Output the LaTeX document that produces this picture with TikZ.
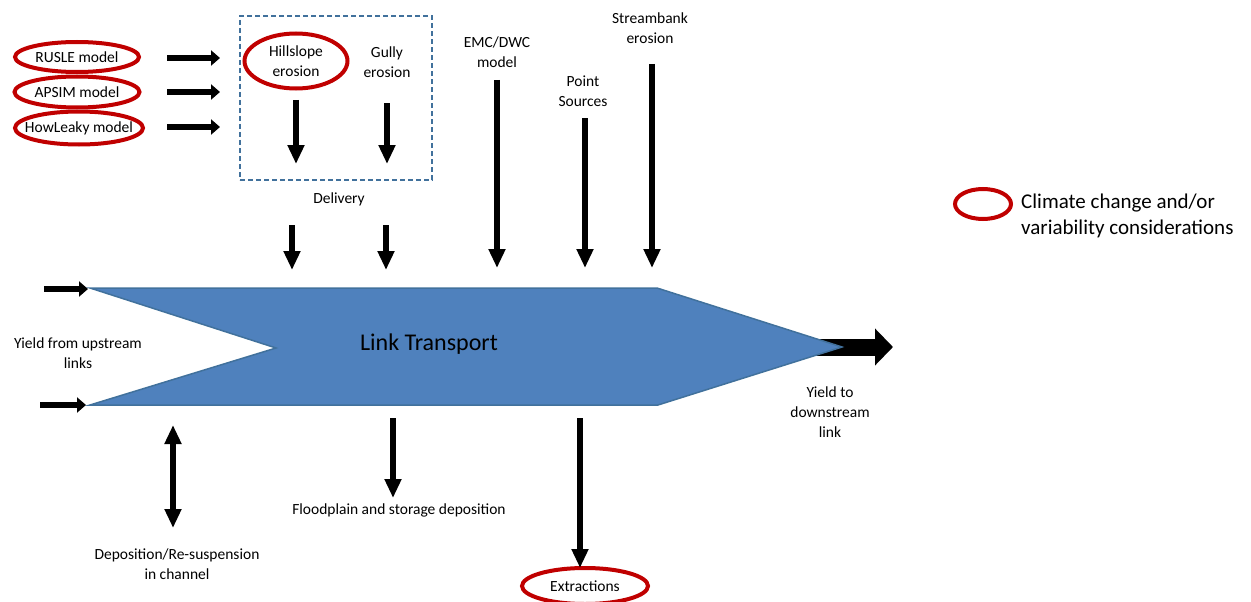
\documentclass[tikz,border=0pt]{standalone}
\usepackage{fontspec}
\setmainfont{Carlito}
\usetikzlibrary{arrows.meta, shapes.geometric}
\definecolor{climred}{HTML}{C00000}
\definecolor{linkblue}{HTML}{4F81BD}
\definecolor{linkedge}{HTML}{41719C}

\begin{document}
\begin{tikzpicture}[
    x=1pt, y=-1pt,
    every node/.style={font=\fontsize{15.5}{20}\selectfont, align=center, inner sep=0pt},
    climate/.style={ellipse, draw=climred, line width=4pt, inner xsep=-12pt},
    fat/.style={line width=6pt, -{Triangle[length=19pt, width=16pt]}},
    short/.style={line width=6pt, -{Triangle[length=9pt, width=15pt]}},
    both/.style={line width=6pt, {Triangle[length=19pt, width=16pt]}-{Triangle[length=19pt, width=16pt]}}
]
\useasboundingbox (0,0) rectangle (1251,602);

% Models feeding hillslope erosion
\node[climate, minimum width=124, minimum height=30] (rusle) at (77,57) {RUSLE model};
\node[climate, minimum width=125, minimum height=31] (apsim) at (77,92) {APSIM model};
\node[climate, minimum width=128, minimum height=33] (howleaky) at (79,128) {HowLeaky model};

% Dashed box with the erosion sources
\node[draw=linkedge, dashed, line width=1.5pt, dash pattern=on 5pt off 3pt,
      minimum width=192, minimum height=164] (sources) at (336,98) {};
\node[climate, minimum width=103, minimum height=55] (hill) at (296,61) {Hillslope\\erosion};
\node (gully) at (387,62) {Gully\\erosion};
\node (delivery) at (339,199) {Delivery};

% Other sources
\node (emc) at (497,52) {EMC/DWC\\model};
\node (point) at (583,91) {Point\\Sources};
\node (bank) at (650,28) {Streambank\\erosion};

% Outputs and losses
\node (upstream) at (78,353) {Yield from upstream\\links};
\node (downstream) at (830,412) {Yield to\\downstream\\link};
\node (resusp) at (177,564) {Deposition/Re-suspension\\in channel};
\node (flood) at (399,510) {Floodplain and storage deposition};
\node[climate, minimum width=126, minimum height=36] (extract) at (585,586) {Extractions};

% Legend
\node[climate, minimum width=56, minimum height=30] (key) at (983,204) {};
\node[anchor=west, align=left, font=\fontsize{21}{26}\selectfont] (keytext) at (1021,216)
    {Climate change and/or\\variability considerations};

% Arrow ends
\coordinate (r0) at (167,58);  \coordinate (r1) at (220,58);
\coordinate (a0) at (167,92);  \coordinate (a1) at (220,92);
\coordinate (h0) at (167,127); \coordinate (h1) at (220,127);
\coordinate (hs0) at (296,100); \coordinate (hs1) at (296,164);
\coordinate (gs0) at (387,103); \coordinate (gs1) at (387,164);
\coordinate (d0) at (292,225); \coordinate (d1) at (292,270);
\coordinate (e0) at (386,225); \coordinate (e1) at (386,270);
\coordinate (emcin) at (497,80);  \coordinate (emcout) at (497,268);
\coordinate (ptin) at (585,118);  \coordinate (ptout) at (585,268);
\coordinate (bkin) at (652,64);   \coordinate (bkout) at (652,268);
\coordinate (up0) at (44,289); \coordinate (up1) at (88,289);
\coordinate (lo0) at (40,405); \coordinate (lo1) at (86,405);
\coordinate (ds0) at (815,347); \coordinate (ds1) at (893,347);
\coordinate (dep0) at (173,425); \coordinate (dep1) at (173,528);
\coordinate (fp0) at (393,418); \coordinate (fp1) at (393,498);
\coordinate (ex0) at (580,418); \coordinate (ex1) at (580,568);

% Yield to downstream (drawn under the link)
\draw[line width=17pt, -{Triangle[length=18pt, width=36pt]}] (ds0) -- (ds1);

% Link transport
\draw[draw=linkedge, line width=1.5pt, fill=linkblue]
    (90,288) -- (657,288) -- (842,347) -- (658,405) -- (90,405) -- (276,348) -- cycle;
\node[font=\fontsize{24}{28}\selectfont] (link) at (429,344) {Link Transport};

% Arrows
\draw[short] (r0) -- (r1);
\draw[short] (a0) -- (a1);
\draw[short] (h0) -- (h1);
\draw[fat] (hs0) -- (hs1);
\draw[fat] (gs0) -- (gs1);
\draw[fat] (d0) -- (d1);
\draw[fat] (e0) -- (e1);
\draw[fat] (emcin) -- (emcout);
\draw[fat] (ptin) -- (ptout);
\draw[fat] (bkin) -- (bkout);
\draw[short] (up0) -- (up1);
\draw[short] (lo0) -- (lo1);
\draw[both] (dep0) -- (dep1);
\draw[fat] (fp0) -- (fp1);
\draw[fat] (ex0) -- (ex1);
\end{tikzpicture}
\end{document}
